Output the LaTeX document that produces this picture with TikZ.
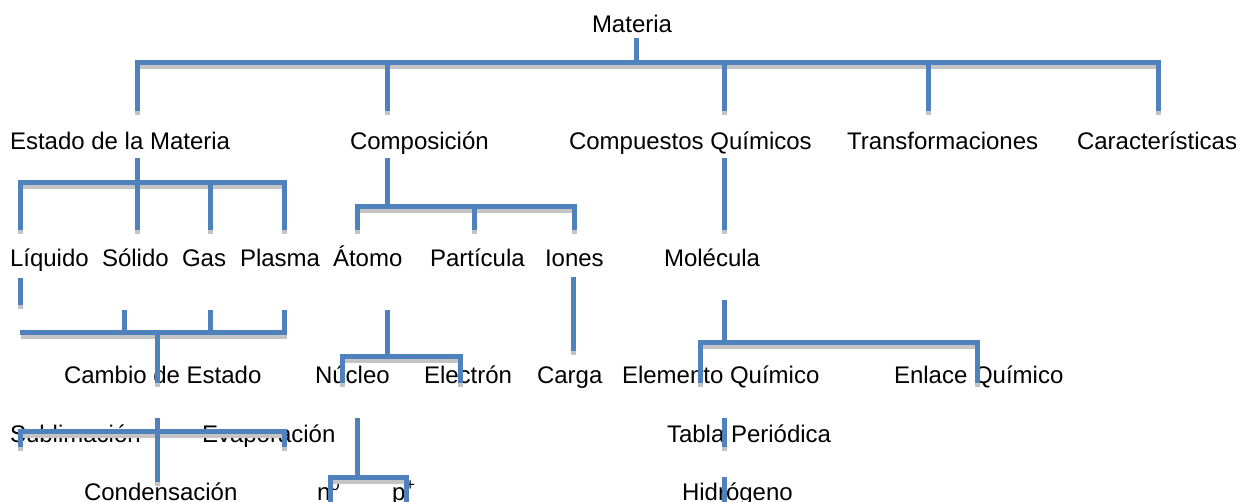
\documentclass[tikz,border=0pt]{standalone}
\usepackage{fontspec}
\setmainfont{Liberation Sans}
\definecolor{linkblue}{HTML}{4F81BD}
\definecolor{shadowgray}{HTML}{C4C4C4}
\tikzset{
  lbl/.style={anchor=base west, inner sep=0pt, outer sep=0pt, font=\fontsize{24}{28}\selectfont},
  conn/.style={draw=linkblue, line width=5pt, line join=miter, line cap=butt},
  shad/.style={draw=shadowgray, line width=5pt, line join=miter, line cap=butt, shift={(0.5,4)}}
}
\newcommand\linkpaths[1]{%
 \draw[#1] (636,38)--(636,63);
 \draw[#1] (137,111)--(137,63)--(1158,63)--(1158,111);
 \draw[#1] (387,63)--(387,111);
 \draw[#1] (724,63)--(724,111);
 \draw[#1] (928,63)--(928,111);
 \draw[#1] (137,158)--(137,183);
 \draw[#1] (20,230)--(20,183)--(284,183)--(284,230);
 \draw[#1] (137,183)--(137,230);
 \draw[#1] (210,183)--(210,230);
 \draw[#1] (387,158)--(387,207);
 \draw[#1] (357,230)--(357,207)--(574,207)--(574,230);
 \draw[#1] (474,207)--(474,230);
 \draw[#1] (724,158)--(724,230);
 \draw[#1] (20,278)--(20,305);
 \draw[#1] (20,333)--(284,333)--(284,310);
 \draw[#1] (124,310)--(124,333);
 \draw[#1] (210,310)--(210,333);
 \draw[#1] (157,333)--(157,383);
 \draw[#1] (387,310)--(387,357);
 \draw[#1] (342,383)--(342,357)--(460,357)--(460,383);
 \draw[#1] (573,277)--(573,351);
 \draw[#1] (724,300)--(724,343);
 \draw[#1] (700,383)--(700,343)--(977,343)--(977,383);
 \draw[#1] (724,418)--(724,447);
 \draw[#1] (724,477)--(724,506);
 \draw[#1] (20,447)--(20,431)--(284,431)--(284,447);
 \draw[#1] (157,418)--(157,482);
 \draw[#1] (357,418)--(357,477);
 \draw[#1] (330,506)--(330,477)--(406,477)--(406,506);
}
\begin{document}
\begin{tikzpicture}[x=1pt,y=-1pt]
\useasboundingbox[fill=white] (0,0) rectangle (1242,502);
% row 1
\node[lbl] (materia) at (592,33) {Materia};
% row 2
\node[lbl] (estado) at (10,150) {Estado de la Materia};
\node[lbl] (compos) at (350,150) {Composición};
\node[lbl] (compq) at (569,150) {Compuestos Químicos};
\node[lbl] (transf) at (847,150) {Transformaciones};
\node[lbl] (caract) at (1077,150) {Características};
% row 3
\node[lbl] (liquido) at (10,267) {Líquido};
\node[lbl] (solido) at (102,267) {Sólido};
\node[lbl] (gas) at (182,267) {Gas};
\node[lbl] (plasma) at (240,267) {Plasma};
\node[lbl] (atomo) at (333,267) {Átomo};
\node[lbl] (particula) at (430,267) {Partícula};
\node[lbl] (iones) at (545,267) {Iones};
\node[lbl] (molecula) at (664,267) {Molécula};
% row 4
\node[lbl] (cambio) at (64,384) {Cambio de Estado};
\node[lbl] (nucleo) at (315,384) {Núcleo};
\node[lbl] (electron) at (424,384) {Electrón};
\node[lbl] (carga) at (537,384) {Carga};
\node[lbl] (elemento) at (622,384) {Elemento Químico};
\node[lbl] (enlace) at (894,384) {Enlace Químico};
% row 5
\node[lbl] (sublim) at (10,442) {Sublimación};
\node[lbl] (evapor) at (202,442) {Evaporación};
\node[lbl] (tabla) at (667,442) {Tabla Periódica};
% row 6
\node[lbl] (conden) at (84,500) {Condensación};
\node[lbl] (neutron) at (317,500) {n\textsuperscript{0}};
\node[lbl] (proton) at (392,500) {p\textsuperscript{+}};
\node[lbl] (hidrog) at (682,500) {Hidrógeno};
% connectors
\linkpaths{shad}
\linkpaths{conn}
\end{tikzpicture}
\end{document}
